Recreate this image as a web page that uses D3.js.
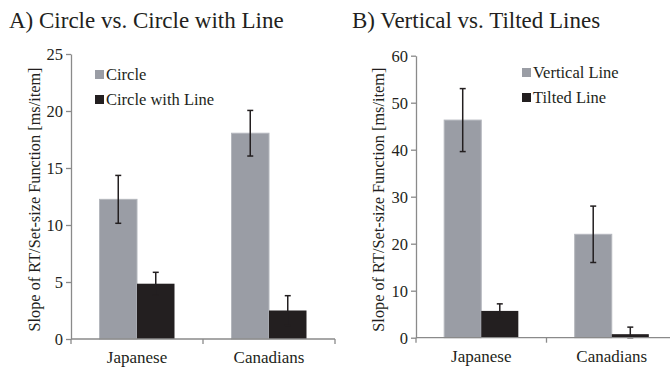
<!DOCTYPE html>
<html>
<head>
<meta charset="utf-8">
<script src="https://cdn.jsdelivr.net/npm/d3@7"></script>
<style>
  body { margin: 0; background: #fff; }
  .axis path, .axis line { stroke: #8a8a8a; stroke-width: 1.3; }
</style>
</head>
<body>
<div id="chart"></div>
<script>
// data
const categories = ["Japanese", "Canadians"];

const seriesA = ["Circle", "Circle with Line"];
const circleVals = [12.25, 18.05];
const circleErr = [2.1, 2.0];
const circleLineVals = [4.85, 2.5];
const circleLineErr = [1.0, 1.3];
const ticksA = [0, 5, 10, 15, 20, 25];

const seriesB = ["Vertical Line", "Tilted Line"];
const verticalVals = [46.3, 22.0];
const verticalErr = [6.7, 6.0];
const tiltedVals = [5.7, 0.75];
const tiltedErr = [1.5, 1.5];
const ticksB = [0, 10, 20, 30, 40, 50, 60];

const colors = ["#9a9da5", "#231f20"];

const svg = d3.select("#chart").append("svg")
    .attr("width", 670)
    .attr("height", 367);

function txt(sel, size) {
    return sel.attr("font-family", "Liberation Serif")
        .attr("font-size", size)
        .attr("fill", "#231f20");
}

function drawPanel(opt) {
    let g = svg.append("g");

    let x = d3.scaleBand()
        .domain(categories)
        .range([opt.left, opt.right])
        .padding(0);

    let xs = d3.scaleBand()
        .domain(opt.series)
        .range([0, x.bandwidth()])
        .paddingInner(0)
        .paddingOuter(0.76);

    let y = d3.scaleLinear()
        .domain([0, opt.max])
        .range([opt.bottom, opt.top]);

    let rows = [];
    categories.forEach((c, i) => {
        opt.series.forEach((s, j) => {
            rows.push({ cat: c, s: s, j: j, v: opt.vals[j][i], e: opt.errs[j][i] });
        });
    });

    g.selectAll(".bar")
        .data(rows)
        .enter().append("rect")
            .attr("class", "bar")
            .attr("x", d => x(d.cat) + xs(d.s))
            .attr("width", xs.bandwidth())
            .attr("y", d => y(d.v))
            .attr("height", d => opt.bottom - y(d.v))
            .attr("fill", d => colors[d.j])
            .attr("stroke", d => d.j == 0 ? "#b4b7bd" : "none")
            .attr("stroke-width", 1);

    // error bars
    let eb = g.selectAll(".err")
        .data(rows)
        .enter().append("g")
            .attr("class", "err")
            .attr("stroke", "#231f20")
            .attr("stroke-width", 1.5);
    let cx = d => x(d.cat) + xs(d.s) + xs.bandwidth() / 2;
    eb.append("line")
        .attr("x1", cx).attr("x2", cx)
        .attr("y1", d => y(d.v + d.e))
        .attr("y2", d => y(Math.max(0, d.v - d.e)));
    eb.append("line")
        .attr("x1", d => cx(d) - 3).attr("x2", d => cx(d) + 3)
        .attr("y1", d => y(d.v + d.e)).attr("y2", d => y(d.v + d.e));
    eb.append("line")
        .attr("x1", d => cx(d) - 3).attr("x2", d => cx(d) + 3)
        .attr("y1", d => y(Math.max(0, d.v - d.e))).attr("y2", d => y(Math.max(0, d.v - d.e)));

    // y axis
    let ya = g.append("g")
        .attr("class", "axis")
        .attr("transform", "translate(" + opt.left + ",0)")
        .call(d3.axisLeft(y).tickValues(opt.ticks).tickSize(5).tickSizeOuter(0).tickPadding(3));
    ya.attr("font-family", null).attr("font-size", null);
    txt(ya.selectAll("text"), 16.5).attr("dy", "0.35em");

    // x axis, ticks at band edges
    let xa = g.append("g")
        .attr("class", "axis")
        .attr("transform", "translate(0," + opt.bottom + ")");
    xa.append("line")
        .attr("x1", opt.left).attr("x2", opt.right);
    xa.selectAll(".edge")
        .data([opt.left, x("Canadians"), opt.right])
        .enter().append("line")
            .attr("x1", d => d).attr("x2", d => d)
            .attr("y1", 0).attr("y2", 5);
    txt(xa.selectAll(".lbl")
        .data(categories)
        .enter().append("text")
            .attr("x", d => x(d) + x.bandwidth() / 2)
            .attr("y", 24)
            .attr("text-anchor", "middle")
            .text(d => d), 17);

    // y title
    txt(svg.append("text")
        .attr("transform", "translate(" + opt.titleX + "," + ((opt.top + opt.bottom) / 2 + 3) + ") rotate(-90)")
        .attr("text-anchor", "middle")
        .text("Slope of RT/Set-size Function [ms/item]"), 16.3);

    // panel title
    txt(svg.append("text")
        .attr("x", opt.headX)
        .attr("y", 28)
        .text(opt.head), 23);

    // legend
    let lg = svg.append("g")
        .attr("transform", "translate(" + opt.legX + "," + opt.legY + ")");
    opt.series.forEach((s, j) => {
        lg.append("rect")
            .attr("x", 0).attr("y", j * 25 - 5)
            .attr("width", 9).attr("height", 9)
            .attr("fill", colors[j]);
        txt(lg.append("text")
            .attr("x", 11).attr("y", j * 25 + 5)
            .text(s), 16.5);
    });
}

drawPanel({
    left: 71, right: 335, top: 54, bottom: 339, max: 25,
    series: seriesA, vals: [circleVals, circleLineVals], errs: [circleErr, circleLineErr],
    ticks: ticksA, titleX: 40, head: "A) Circle vs. Circle with Line", headX: 9,
    legX: 95, legY: 75
});

drawPanel({
    left: 416, right: 677, top: 55.7, bottom: 337.7, max: 60,
    series: seriesB, vals: [verticalVals, tiltedVals], errs: [verticalErr, tiltedErr],
    ticks: ticksB, titleX: 384, head: "B) Vertical vs. Tilted Lines", headX: 352,
    legX: 522, legY: 73
});
</script>
</body>
</html>
